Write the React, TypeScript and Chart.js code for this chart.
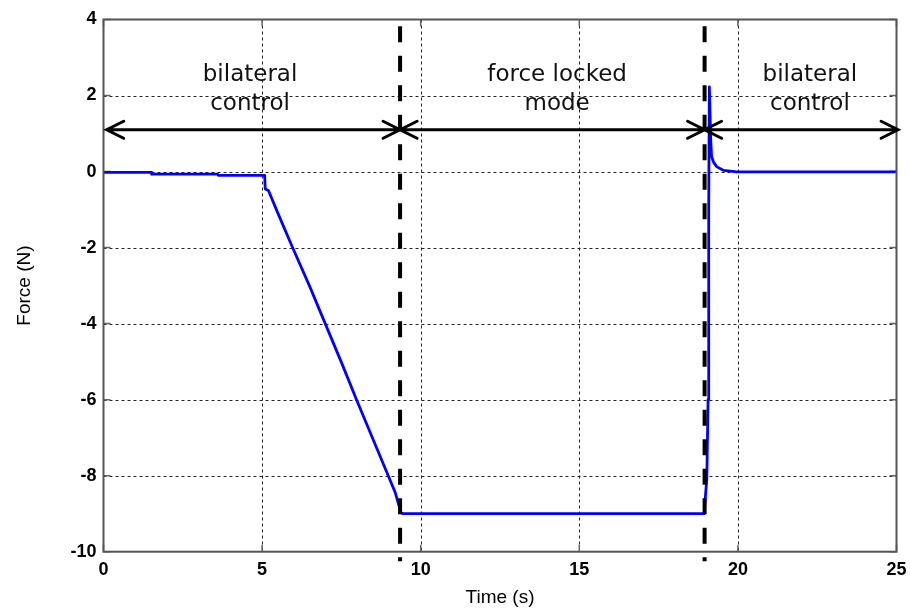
import React, { useEffect, useRef } from "react";
import { Chart, registerables } from "chart.js";
Chart.register(...registerables);

// ---- data ----
const timeS = [
  0, 1.5, 1.52, 3.6, 3.62, 5.08, 5.1, 5.2, 5.5, 5.95, 6.5, 7.0, 7.5, 8.0, 8.5,
  9.0, 9.2, 9.38, 9.45, 18.94, 18.98, 19.02, 19.06, 19.08, 19.1, 19.14, 19.17,
  19.23, 19.33, 19.55, 19.96, 25,
];
const forceN = [
  -0.02, -0.02, -0.07, -0.07, -0.1, -0.1, -0.46, -0.5, -1.1, -1.98, -3.02, -4.02,
  -5.02, -6.05, -7.05, -8.05, -8.45, -8.98, -9.0, -9.0, -8.5, -8.1, -6.0, -1.0,
  2.23, 0.9, 0.4, 0.25, 0.13, 0.03, -0.01, -0.01,
];
const xTicks = [0, 5, 10, 15, 20, 25];
const yTicks = [-10, -8, -6, -4, -2, 0, 2, 4];
const switchTimes = [9.35, 18.95];
const dashedTop = 3.82;
const dashedBottom = -10.25;
const arrowY = 1.1;
const arrowStarts = [0.1, 9.35, 18.95];
const arrowEnds = [9.35, 18.95, 25.05];
const regionLabels = [
  ["bilateral", "control"],
  ["force locked", "mode"],
  ["bilateral", "control"],
];
const labelCenters = [4.62, 14.3, 22.27];
const labelLineY = [2.55, 1.78];

const overlay = {
  id: "overlay",
  beforeDatasetsDraw(chart: any) {
    const { ctx, chartArea: a, scales } = chart;
    const x = scales.x;
    const y = scales.y;
    ctx.save();
    ctx.strokeStyle = "#222";
    ctx.lineWidth = 1;
    ctx.setLineDash([3, 3]);
    xTicks.slice(1, -1).forEach((v) => {
      const px = Math.round(x.getPixelForValue(v)) + 0.5;
      ctx.beginPath();
      ctx.moveTo(px, a.top);
      ctx.lineTo(px, a.bottom);
      ctx.stroke();
    });
    yTicks.slice(1, -1).forEach((v) => {
      const py = Math.round(y.getPixelForValue(v)) + 0.5;
      ctx.beginPath();
      ctx.moveTo(a.left, py);
      ctx.lineTo(a.right, py);
      ctx.stroke();
    });
    ctx.setLineDash([]);
    ctx.strokeStyle = "#666";
    ctx.lineWidth = 1.5;
    const tl = 7;
    xTicks.forEach((v) => {
      const px = x.getPixelForValue(v);
      ctx.beginPath();
      ctx.moveTo(px, a.bottom);
      ctx.lineTo(px, a.bottom - tl);
      ctx.moveTo(px, a.top);
      ctx.lineTo(px, a.top + tl);
      ctx.stroke();
    });
    yTicks.forEach((v) => {
      const py = y.getPixelForValue(v);
      ctx.beginPath();
      ctx.moveTo(a.left, py);
      ctx.lineTo(a.left + tl, py);
      ctx.moveTo(a.right, py);
      ctx.lineTo(a.right - tl, py);
      ctx.stroke();
    });
    ctx.restore();
  },
  afterDatasetsDraw(chart: any) {
    const { ctx, chartArea: a, scales } = chart;
    const x = scales.x;
    const y = scales.y;
    ctx.save();
    // box
    ctx.strokeStyle = "#555";
    ctx.lineWidth = 2;
    ctx.strokeRect(a.left, a.top, a.right - a.left, a.bottom - a.top);
    // dashed switch lines
    ctx.strokeStyle = "#000";
    ctx.lineWidth = 4;
    ctx.setLineDash([16, 13.5]);
    switchTimes.forEach((t) => {
      const px = x.getPixelForValue(t);
      ctx.beginPath();
      ctx.moveTo(px, y.getPixelForValue(dashedTop));
      ctx.lineTo(px, y.getPixelForValue(dashedBottom));
      ctx.stroke();
    });
    ctx.setLineDash([]);
    // arrows
    ctx.lineWidth = 3;
    ctx.lineCap = "round";
    const py = y.getPixelForValue(arrowY);
    const hl = 17;
    const hw = 8.5;
    arrowStarts.forEach((s, i) => {
      const x1 = x.getPixelForValue(s);
      const x2 = x.getPixelForValue(arrowEnds[i]);
      ctx.beginPath();
      ctx.moveTo(x1, py);
      ctx.lineTo(x2, py);
      ctx.moveTo(x1 + hl, py - hw);
      ctx.lineTo(x1, py);
      ctx.lineTo(x1 + hl, py + hw);
      ctx.moveTo(x2 - hl, py - hw);
      ctx.lineTo(x2, py);
      ctx.lineTo(x2 - hl, py + hw);
      ctx.stroke();
    });
    // labels
    ctx.fillStyle = "#111";
    ctx.font = "23px 'DejaVu Sans'";
    ctx.textAlign = "center";
    ctx.textBaseline = "middle";
    regionLabels.forEach((lines, i) => {
      const px = x.getPixelForValue(labelCenters[i]);
      lines.forEach((txt, j) => {
        ctx.fillText(txt, px, y.getPixelForValue(labelLineY[j]));
      });
    });
    ctx.restore();
  },
};

export default function App() {
  const ref = useRef<HTMLCanvasElement | null>(null);
  useEffect(() => {
    if (!ref.current) return;
    const chart = new Chart(ref.current, {
      type: "line",
      data: {
        datasets: [
          {
            data: timeS.map((t, i) => ({ x: t, y: forceN[i] })),
            borderColor: "#0000ff",
            borderWidth: 2.8,
            borderJoinStyle: "round",
            borderCapStyle: "round",
            pointRadius: 0,
            tension: 0,
            fill: false,
          },
        ],
      },
      options: {
        animation: false,
        responsive: true,
        maintainAspectRatio: false,
        layout: { padding: { top: 19.5, right: 13.5, left: 0, bottom: 0 } },
        plugins: { legend: { display: false }, tooltip: { enabled: false } },
        scales: {
          x: {
            type: "linear",
            min: 0,
            max: 25,
            afterBuildTicks: (s: any) => {
              s.ticks = xTicks.map((v) => ({ value: v }));
            },
            afterFit: (s: any) => {
              s.height = 57.3;
              s.paddingLeft = 0;
              s.paddingRight = 0;
            },
            grid: { display: false, drawTicks: false },
            border: { display: false },
            ticks: {
              color: "#000",
              padding: 8,
              maxRotation: 0,
              font: { family: "'Liberation Sans', Arial", size: 18, weight: "bold" },
            },
            title: {
              display: true,
              text: "Time (s)",
              color: "#000",
              padding: { top: 0.6, bottom: 0 },
              font: { family: "'Liberation Sans', Arial", size: 19 },
            },
          },
          y: {
            type: "linear",
            min: -10,
            max: 4,
            afterBuildTicks: (s: any) => {
              s.ticks = yTicks.map((v) => ({ value: v }));
            },
            afterFit: (s: any) => {
              s.width = 103.5;
              s.paddingTop = 0;
              s.paddingBottom = 0;
            },
            grid: { display: false, drawTicks: false },
            border: { display: false },
            ticks: {
              color: "#000",
              padding: 7,
              font: { family: "'Liberation Sans', Arial", size: 18, weight: "bold" },
            },
            title: {
              display: true,
              text: "Force (N)",
              color: "#000",
              padding: { top: 13.6, bottom: 0 },
              font: { family: "'Liberation Sans', Arial", size: 19 },
            },
          },
        },
      },
      plugins: [overlay],
    } as any);
    return () => chart.destroy();
  }, []);
  return (
    <div style={{ position: "absolute", left: 0, top: 0, width: 910, height: 609, background: "#fff" }}>
      <canvas ref={ref} />
    </div>
  );
}
